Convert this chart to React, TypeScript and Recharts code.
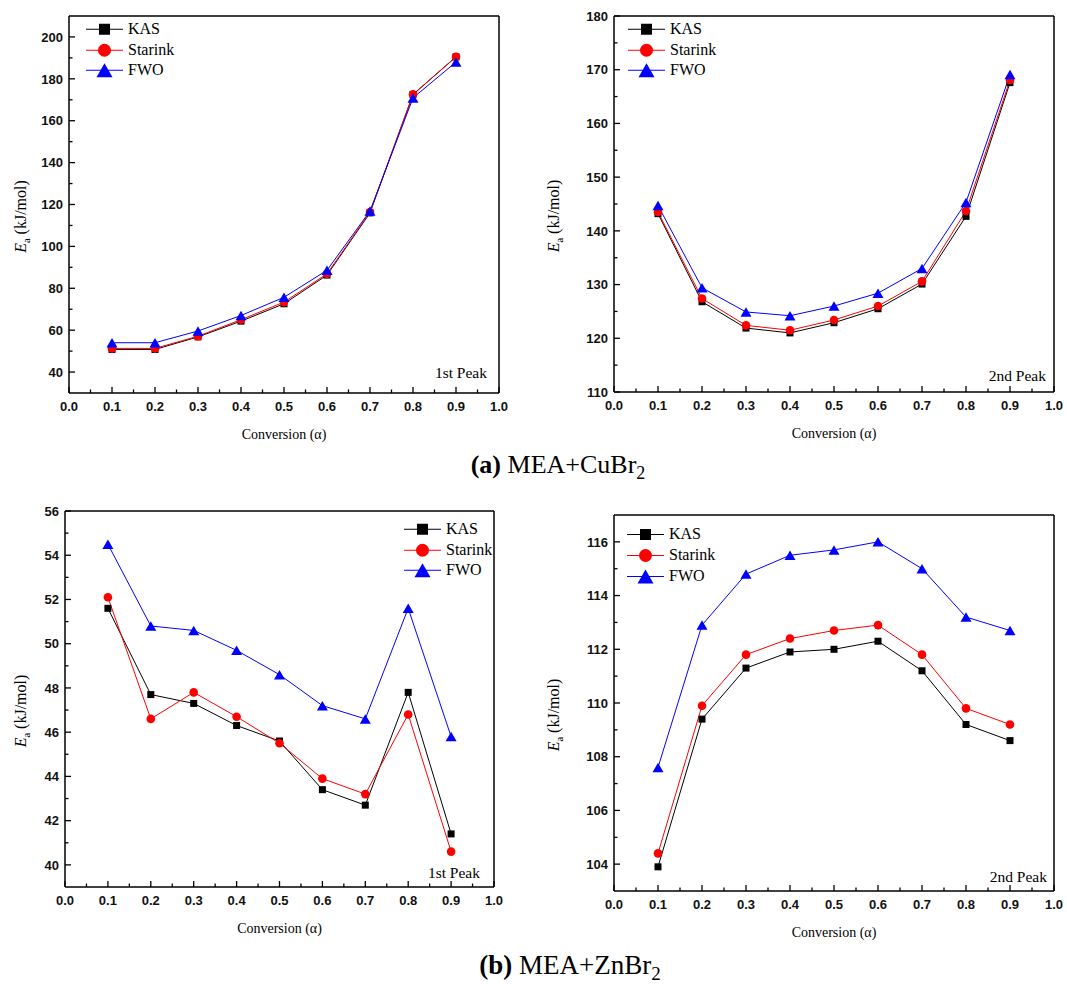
import React from "react";
import { CartesianGrid, Label, Legend, Line, LineChart, XAxis, YAxis } from "recharts";

// conversion values shared by all four panels
const ALPHA = [0.1, 0.2, 0.3, 0.4, 0.5, 0.6, 0.7, 0.8, 0.9];
const X_MAJOR = [0, 0.1, 0.2, 0.3, 0.4, 0.5, 0.6, 0.7, 0.8, 0.9, 1.0];
const X_MINOR = [0.05, 0.15, 0.25, 0.35, 0.45, 0.55, 0.65, 0.75, 0.85, 0.95];

// (a) MEA+CuBr2, 1st peak
const CU1_KAS = [50.8, 50.8, 56.8, 64.3, 72.6, 86.3, 116, 172.5, 190.5];
const CU1_STARINK = [51.3, 51.3, 57.1, 65.0, 73.4, 86.9, 116.4, 172.6, 190.5];
const CU1_FWO = [54.0, 54.0, 59.6, 67.0, 75.7, 88.6, 116.9, 170.9, 188.0];
const CU1_Y_MAJOR = [40, 60, 80, 100, 120, 140, 160, 180, 200];
const CU1_Y_MINOR = [50, 70, 90, 110, 130, 150, 170, 190];

// (a) MEA+CuBr2, 2nd peak
const CU2_KAS = [143.2, 126.8, 121.9, 121.0, 122.9, 125.5, 130.1, 142.7, 167.6];
const CU2_STARINK = [143.5, 127.4, 122.4, 121.5, 123.4, 126.0, 130.6, 143.7, 168.1];
const CU2_FWO = [144.7, 129.4, 124.9, 124.2, 126.0, 128.4, 133.0, 145.3, 169.1];
const CU2_Y_MAJOR = [110, 120, 130, 140, 150, 160, 170, 180];
const CU2_Y_MINOR = [115, 125, 135, 145, 155, 165, 175];

// (b) MEA+ZnBr2, 1st peak
const ZN1_KAS = [51.6, 47.7, 47.3, 46.3, 45.6, 43.4, 42.7, 47.8, 41.4];
const ZN1_STARINK = [52.1, 46.6, 47.8, 46.7, 45.5, 43.9, 43.2, 46.8, 40.6];
const ZN1_FWO = [54.5, 50.8, 50.6, 49.7, 48.6, 47.2, 46.6, 51.6, 45.8];
const ZN1_Y_MAJOR = [40, 42, 44, 46, 48, 50, 52, 54, 56];
const ZN1_Y_MINOR = [41, 43, 45, 47, 49, 51, 53, 55];

// (b) MEA+ZnBr2, 2nd peak
const ZN2_KAS = [103.9, 109.4, 111.3, 111.9, 112.0, 112.3, 111.2, 109.2, 108.6];
const ZN2_STARINK = [104.4, 109.9, 111.8, 112.4, 112.7, 112.9, 111.8, 109.8, 109.2];
const ZN2_FWO = [107.6, 112.9, 114.8, 115.5, 115.7, 116.0, 115.0, 113.2, 112.7];
const ZN2_Y_MAJOR = [104, 106, 108, 110, 112, 114, 116];
const ZN2_Y_MINOR = [105, 107, 109, 111, 113, 115];

const SERIES_NAMES = ["KAS", "Starink", "FWO"];

const SERIF = "'Liberation Serif', 'Times New Roman', serif";
const SANS = "'Liberation Sans', Arial, sans-serif";
const COLORS = { KAS: "#000000", Starink: "#ff0000", FWO: "#0000ff" } as Record<string, string>;
const AXIS = { stroke: "#000", strokeWidth: 1.5 };

const isIn = (list: number[], v: number) => list.some((m) => Math.abs(m - v) < 1e-9);

function Marker({ name, cx, cy, big }: { name: string; cx: number; cy: number; big?: boolean }) {
  const c = COLORS[name];
  if (name === "KAS") {
    const s = big ? 11 : 7;
    return <rect x={cx - s / 2} y={cy - s / 2} width={s} height={s} fill={c} />;
  }
  if (name === "Starink") {
    return <circle cx={cx} cy={cy} r={big ? 6.5 : 4.3} fill={c} />;
  }
  const w = big ? 16 : 11;
  const h = big ? 14 : 9.5;
  return (
    <polygon
      points={`${cx - w / 2},${cy + h / 2} ${cx + w / 2},${cy + h / 2} ${cx},${cy - h / 2}`}
      fill={c}
    />
  );
}

const makeDot = (name: string) => (props: any) => {
  const { cx, cy, index } = props;
  if (cx == null || cy == null) return <g key={index} />;
  return <Marker key={`${name}-${index}`} name={name} cx={cx} cy={cy} />;
};

const makeXTick = () => (props: any) => {
  const { x, y, payload } = props;
  const major = isIn(X_MAJOR, payload.value);
  return (
    <g>
      <line x1={x} x2={x} y1={y} y2={y - (major ? 6 : 3.5)} stroke="#000" strokeWidth={1.3} />
      {major && (
        <text x={x} y={y + 9} dy="0.71em" textAnchor="middle" fontFamily={SANS} fontSize={13} fontWeight="bold" fill="#111">
          {payload.value.toFixed(1)}
        </text>
      )}
    </g>
  );
};

const makeYTick = (majors: number[]) => (props: any) => {
  const { x, y, payload } = props;
  const major = isIn(majors, payload.value);
  return (
    <g>
      <line x1={x} x2={x + (major ? 6 : 3.5)} y1={y} y2={y} stroke="#000" strokeWidth={1.3} />
      {major && (
        <text x={x - 6} y={y} dy="0.36em" textAnchor="end" fontFamily={SANS} fontSize={13} fontWeight="bold" fill="#111">
          {payload.value}
        </text>
      )}
    </g>
  );
};

function LegendBox({ textGap, rowH }: { textGap: number; rowH: number }) {
  return (
    <div style={{ position: "relative" }}>
      {SERIES_NAMES.map((n) => (
        <div key={n} style={{ display: "flex", alignItems: "center", height: rowH }}>
          <svg width={37} height={rowH} style={{ display: "block" }}>
            <line x1={0} x2={37} y1={rowH / 2} y2={rowH / 2} stroke={COLORS[n]} strokeWidth={1} />
            <Marker name={n} cx={18.5} cy={rowH / 2} big />
          </svg>
          <span
            style={{
              marginLeft: textGap,
              fontFamily: SERIF,
              fontSize: 16,
              color: "#000",
              lineHeight: 1,
            }}
          >
            {n}
          </span>
        </div>
      ))}
    </div>
  );
}

interface PanelProps {
  left: number;
  top: number;
  width: number;
  height: number;
  margin: { top: number; right: number; left: number; bottom: number };
  yAxisW: number;
  xAxisH: number;
  kas: number[];
  starink: number[];
  fwo: number[];
  yDomain: [number, number];
  yMajor: number[];
  yMinor: number[];
  peak: string;
  peakDx: number;
  peakDy: number;
  legendLeft: number;
  legendTop: number;
  legendRow: number;
}

function Panel(p: PanelProps) {
  const data = ALPHA.map((a, i) => ({ a, KAS: p.kas[i], Starink: p.starink[i], FWO: p.fwo[i] }));
  const xTicks = [...X_MAJOR, ...X_MINOR].sort((u, v) => u - v);
  const yTicks = [...p.yMajor, ...p.yMinor].sort((u, v) => u - v);
  return (
    <div style={{ position: "absolute", left: p.left, top: p.top }}>
      <LineChart width={p.width} height={p.height} data={data} margin={p.margin}>
        {/* plot frame: only the outer box lines */}
        <CartesianGrid
          stroke="#000"
          strokeWidth={1.5}
          fill="none"
          horizontalCoordinatesGenerator={({ offset }: any) => [offset.top]}
          verticalCoordinatesGenerator={({ offset }: any) => [offset.left + offset.width]}
        />
        <XAxis
          dataKey="a"
          type="number"
          domain={[0, 1]}
          ticks={xTicks}
          interval={0}
          tickSize={0}
          tickMargin={0}
          tickLine={false}
          tick={makeXTick()}
          height={p.xAxisH}
          axisLine={AXIS}
          allowDataOverflow
        >
          <Label
            content={(lp: any) => {
              const vb = lp.viewBox;
              return (
                <g>
                  <text x={vb.x + vb.width / 2} y={vb.y + 46} textAnchor="middle" fontFamily={SERIF} fontSize={14} fill="#000">
                    Conversion (α)
                  </text>
                  <text
                    x={vb.x + vb.width - p.peakDx}
                    y={vb.y - p.peakDy}
                    textAnchor="end"
                    fontFamily={SERIF}
                    fontSize={15.5}
                    fill="#000"
                  >
                    {p.peak}
                  </text>
                </g>
              );
            }}
          />
        </XAxis>
        <YAxis
          type="number"
          domain={p.yDomain}
          ticks={yTicks}
          interval={0}
          tickSize={0}
          tickMargin={0}
          tickLine={false}
          tick={makeYTick(p.yMajor)}
          width={p.yAxisW}
          axisLine={AXIS}
          allowDataOverflow
        >
          <Label
            content={(lp: any) => {
              const vb = lp.viewBox;
              const cx = 20;
              const cy = vb.y + vb.height / 2 + 12;
              return (
                <text
                  x={cx}
                  y={cy}
                  transform={`rotate(-90, ${cx}, ${cy})`}
                  textAnchor="middle"
                  dy="0.35em"
                  fontFamily={SERIF}
                  fontSize={16}
                  fill="#000"
                >
                  <tspan fontStyle="italic">E</tspan>
                  <tspan fontSize={10.5} dy={4}>a</tspan>
                  <tspan dy={-4}> (kJ/mol)</tspan>
                </text>
              );
            }}
          />
        </YAxis>
        <Legend
          layout="horizontal"
          verticalAlign="middle"
          align="center"
          wrapperStyle={{ top: p.legendTop, left: p.legendLeft, width: "auto" }}
          content={() => <LegendBox textGap={5} rowH={p.legendRow} />}
        />
        {SERIES_NAMES.map((n) => (
          <Line
            key={n}
            type="linear"
            dataKey={n}
            stroke={COLORS[n]}
            strokeWidth={1}
            dot={makeDot(n)}
            activeDot={false}
            isAnimationActive={false}
          />
        ))}
      </LineChart>
    </div>
  );
}

export default function App() {
  return (
    <div style={{ position: "absolute", left: 0, top: 0, width: 1067, height: 986, background: "#fff", overflow: "hidden" }}>
      <Panel
        left={0}
        top={0}
        width={533}
        height={445}
        margin={{ top: 16, right: 34, left: 0, bottom: 0 }}
        yAxisW={69}
        xAxisH={52}
        kas={CU1_KAS}
        starink={CU1_STARINK}
        fwo={CU1_FWO}
        yDomain={[30, 210]}
        yMajor={CU1_Y_MAJOR}
        yMinor={CU1_Y_MINOR}
        peak="1st Peak"
        peakDx={12}
        peakDy={15}
        legendLeft={86}
        legendTop={19}
        legendRow={20.5}
      />
      <Panel
        left={533}
        top={0}
        width={534}
        height={445}
        margin={{ top: 16, right: 13, left: 0, bottom: 0 }}
        yAxisW={81}
        xAxisH={53}
        kas={CU2_KAS}
        starink={CU2_STARINK}
        fwo={CU2_FWO}
        yDomain={[110, 180]}
        yMajor={CU2_Y_MAJOR}
        yMinor={CU2_Y_MINOR}
        peak="2nd Peak"
        peakDx={8}
        peakDy={11}
        legendLeft={95}
        legendTop={19}
        legendRow={20.5}
      />
      <Panel
        left={0}
        top={490}
        width={533}
        height={450}
        margin={{ top: 21, right: 39, left: 0, bottom: 0 }}
        yAxisW={65}
        xAxisH={53}
        kas={ZN1_KAS}
        starink={ZN1_STARINK}
        fwo={ZN1_FWO}
        yDomain={[39, 56]}
        yMajor={ZN1_Y_MAJOR}
        yMinor={ZN1_Y_MINOR}
        peak="1st Peak"
        peakDx={14}
        peakDy={9}
        legendLeft={404}
        legendTop={29}
        legendRow={20.5}
      />
      <Panel
        left={533}
        top={490}
        width={534}
        height={450}
        margin={{ top: 25, right: 13, left: 0, bottom: 0 }}
        yAxisW={81}
        xAxisH={49}
        kas={ZN2_KAS}
        starink={ZN2_STARINK}
        fwo={ZN2_FWO}
        yDomain={[103, 117]}
        yMajor={ZN2_Y_MAJOR}
        yMinor={ZN2_Y_MINOR}
        peak="2nd Peak"
        peakDx={7}
        peakDy={9}
        legendLeft={94}
        legendTop={33.5}
        legendRow={21}
      />
      <svg width={1067} height={986} style={{ position: "absolute", left: 0, top: 0, pointerEvents: "none" }}>
        <text x={558} y={473} textAnchor="middle" fontFamily={SERIF} fontSize={26} fill="#000">
          <tspan fontWeight="bold">(a)</tspan>
          <tspan> MEA+CuBr</tspan>
          <tspan fontSize={18} dy={6}>2</tspan>
        </text>
        <text x={570} y={974} textAnchor="middle" fontFamily={SERIF} fontSize={27} fill="#000">
          <tspan fontWeight="bold">(b)</tspan>
          <tspan> MEA+ZnBr</tspan>
          <tspan fontSize={19} dy={6}>2</tspan>
        </text>
      </svg>
    </div>
  );
}
